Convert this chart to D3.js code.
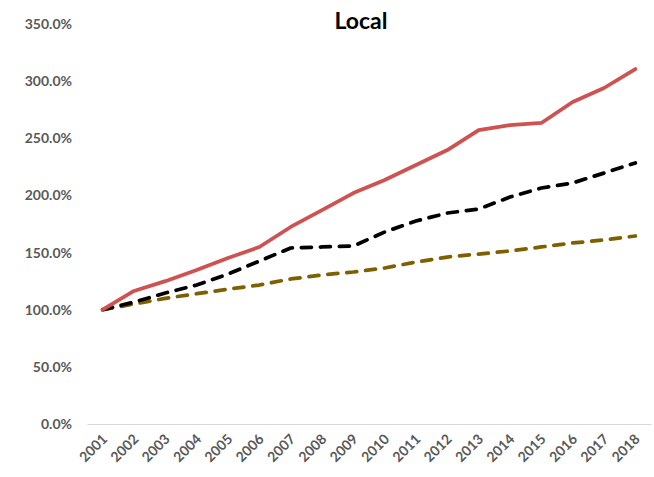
<!DOCTYPE html>
<html>
<head>
<meta charset="utf-8">
<script src="https://cdn.jsdelivr.net/npm/d3@7"></script>
<style>
  html, body { margin: 0; padding: 0; background: #fff; }
  svg { display: block; }
</style>
</head>
<body>
<svg id="chart" width="654" height="477"></svg>
<script>
// Cumulative growth index (2001 = 100%)
const years = ["2001","2002","2003","2004","2005","2006","2007","2008","2009",
               "2010","2011","2012","2013","2014","2015","2016","2017","2018"];
const localSeries = [1.00,1.164,1.25,1.347,1.452,1.549,1.724,1.872,2.021,
                     2.135,2.266,2.397,2.572,2.616,2.634,2.817,2.940,3.106];
const blackSeries = [1.00,1.067,1.146,1.216,1.312,1.426,1.540,1.549,1.557,
                     1.680,1.776,1.846,1.881,1.986,2.065,2.109,2.196,2.284];
const goldSeries  = [1.00,1.05,1.10,1.14,1.18,1.216,1.269,1.304,1.330,
                     1.365,1.417,1.461,1.487,1.514,1.549,1.584,1.610,1.645];
const yTicks = [0,0.5,1,1.5,2,2.5,3,3.5];
const title = "Local";

const svg = d3.select("#chart");
const margin = {left: 87, right: 3, top: 24, bottom: 53};
const W = 654, H = 477;

const x = d3.scalePoint().domain(years)
  .range([margin.left, W - margin.right]).padding(0.5);
const y = d3.scaleLinear().domain([0, 3.5]).range([H - margin.bottom, margin.top]);

const font = "Lato, 'Open Sans', sans-serif";

// Title
svg.append("text")
  .attr("x", 361).attr("y", 29)
  .attr("text-anchor", "middle")
  .attr("font-family", font).attr("font-weight", 700)
  .attr("font-size", 23).attr("fill", "#000")
  .text(title);

// Y axis labels
const yAxis = d3.axisLeft(y).tickValues(yTicks)
  .tickFormat(d3.format(".1%")).tickSize(0).tickPadding(0);
const gy = svg.append("g").attr("transform", `translate(72,0)`).call(yAxis);
gy.select(".domain").remove();
gy.selectAll("text")
  .attr("font-family", font).attr("font-weight", 700)
  .attr("font-size", 14).attr("fill", "#595959");

// X axis baseline and labels
const xAxis = d3.axisBottom(x).tickSize(0).tickPadding(0);
const gx = svg.append("g").attr("transform", `translate(0,${y(0)})`).call(xAxis);
gx.select(".domain").attr("stroke", "#d9d9d9").attr("stroke-width", 1.2);
gx.selectAll(".tick text")
  .attr("font-family", font).attr("font-weight", 700)
  .attr("font-size", 14).attr("fill", "#595959")
  .attr("text-anchor", "end")
  .attr("dy", null)
  .attr("transform", "translate(5,16) rotate(-45)");

// Lines
const line = d3.line().x((d, i) => x(years[i])).y(d => y(d));

svg.append("path").datum(goldSeries)
  .attr("d", line).attr("fill", "none")
  .attr("stroke", "#7f6000").attr("stroke-width", 3.75)
  .attr("stroke-dasharray", "10,9").attr("stroke-linecap", "round")
  .attr("stroke-linejoin", "round");

svg.append("path").datum(blackSeries)
  .attr("d", line).attr("fill", "none")
  .attr("stroke", "#000").attr("stroke-width", 3.75)
  .attr("stroke-dasharray", "10,9").attr("stroke-linecap", "round")
  .attr("stroke-linejoin", "round");

svg.append("path").datum(localSeries)
  .attr("d", line).attr("fill", "none")
  .attr("stroke", "#cf5150").attr("stroke-width", 3.75)
  .attr("stroke-linecap", "round").attr("stroke-linejoin", "round");
</script>
</body>
</html>
